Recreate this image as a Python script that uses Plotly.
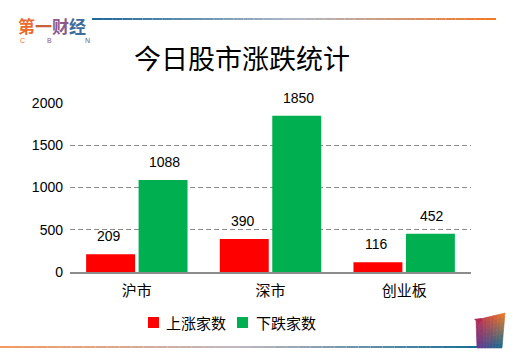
import plotly.graph_objects as go

categories = ["沪市", "深市", "创业板"]
up_name = "上涨家数"
down_name = "下跌家数"
up_values = [209, 390, 116]
down_values = [1088, 1850, 452]
y_ticks = [0, 500, 1000, 1500, 2000]

RED = "#FF0000"
GREEN = "#00B050"
CJK = "Noto Sans CJK SC"
NUM = "Liberation Sans"

W, H = 520, 360
PL, PR, PT, PB = 70, 471, 103, 272


def px(x):
    return (x - PL) / (PR - PL)


def py(y):
    return (PB - y) / (PB - PT)


def mix(c1, c2, t):
    a = [int(c1[i:i + 2], 16) for i in (1, 3, 5)]
    b = [int(c2[i:i + 2], 16) for i in (1, 3, 5)]
    return "rgb(%d,%d,%d)" % tuple(round(a[k] + (b[k] - a[k]) * t) for k in range(3))


def mix3(c1, c2, c3, t):
    if t < 0.5:
        return mix(c1, c2, t * 2)
    return mix(c2, c3, (t - 0.5) * 2)


fig = go.Figure()
fig.add_trace(go.Bar(name=up_name, x=categories, y=up_values, marker_color=RED,
                     marker_line_width=0))
fig.add_trace(go.Bar(name=down_name, x=categories, y=down_values, marker_color=GREEN,
                     marker_line_width=0))

annotations = []
for vals, shift in ((up_values, -28), (down_values, 28)):
    for c, v in zip(categories, vals):
        annotations.append(dict(x=c, y=v, xref="x", yref="y", text=str(v),
                                showarrow=False, xshift=shift, yshift=18,
                                font=dict(family=NUM, size=14, color="black"),
                                xanchor="center", yanchor="middle"))

shapes = []

# legend (drawn manually for exact spacing)
for name, color, sq_x, tx_x in ((up_name, RED, 148, 164), (down_name, GREEN, 237, 254)):
    shapes.append(dict(type="rect", xref="paper", yref="paper",
                       x0=px(sq_x), x1=px(sq_x + 11), y0=py(317), y1=py(328),
                       fillcolor=color, line=dict(width=0)))
    annotations.append(dict(x=px(tx_x), y=py(322), xref="paper", yref="paper",
                            text=name, showarrow=False, xanchor="left", yanchor="middle",
                            font=dict(family=CJK, size=15, color="black")))

# Logo text
annotations.append(dict(
    x=px(16), y=py(25), xref="paper", yref="paper", showarrow=False,
    xanchor="left", yanchor="middle",
    text="<b><span style='color:#EC6A2C'>第</span><span style='color:#C8603A'>一</span>"
         "<span style='color:#8A5A8A'>财</span><span style='color:#3E6C9C'>经</span></b>",
    font=dict(family=CJK, size=17)))
for ch, cx, cc in (("C", 22, "#EC6A2C"), ("B", 49, "#8A5A8A"), ("N", 87, "#3E6C9C")):
    annotations.append(dict(x=px(cx), y=py(41), xref="paper", yref="paper", showarrow=False,
                            xanchor="center", yanchor="middle", text=ch,
                            font=dict(family=NUM, size=7, color=cc)))

# top gradient line
N = 40
x0, x1 = 92, 496
for i in range(N):
    a = x0 + (x1 - x0) * i / N
    b = x0 + (x1 - x0) * (i + 1) / N
    shapes.append(dict(type="line", xref="paper", yref="paper", x0=px(a), x1=px(b),
                       y0=py(19), y1=py(19),
                       line=dict(color=mix3("#1E6A98", "#B0B8C8", "#F07A28", i / (N - 1)), width=2)))
# bottom gradient line
x0, x1 = 0, 478
for i in range(N):
    a = x0 + (x1 - x0) * i / N
    b = x0 + (x1 - x0) * (i + 1) / N
    shapes.append(dict(type="line", xref="paper", yref="paper", x0=px(a), x1=px(b),
                       y0=py(347), y1=py(347),
                       line=dict(color=mix3("#F39A60", "#C0B8C0", "#1A6E96", i / (N - 1)), width=2)))

# corner decoration (bilinear gradient quad)
TLp, TRp, BRp, BLp = (476, 320), (505, 313), (502, 348), (477, 348)
cTL, cTR, cBL, cBR = "#B02C58", "#F47C20", "#6A3690", "#0E6E92"


def bil(u, v):
    top = (TLp[0] + (TRp[0] - TLp[0]) * u, TLp[1] + (TRp[1] - TLp[1]) * u)
    bot = (BLp[0] + (BRp[0] - BLp[0]) * u, BLp[1] + (BRp[1] - BLp[1]) * u)
    return (top[0] + (bot[0] - top[0]) * v, top[1] + (bot[1] - top[1]) * v)


def colr(u, v):
    def h(c):
        return [int(c[i:i + 2], 16) for i in (1, 3, 5)]
    t = [h(cTL)[k] * (1 - u) + h(cTR)[k] * u for k in range(3)]
    b = [h(cBL)[k] * (1 - u) + h(cBR)[k] * u for k in range(3)]
    return "rgb(%d,%d,%d)" % tuple(round(t[k] * (1 - v) + b[k] * v) for k in range(3))


M = 8
for i in range(M):
    for j in range(M):
        u0, u1, v0, v1 = i / M, (i + 1) / M, j / M, (j + 1) / M
        pts = [bil(u0, v0), bil(u1, v0), bil(u1, v1), bil(u0, v1)]
        path = "M " + " L ".join("%f,%f" % (px(p[0]), py(p[1])) for p in pts) + " Z"
        shapes.append(dict(type="path", xref="paper", yref="paper", path=path,
                           fillcolor=colr((i + 0.5) / M, (j + 0.5) / M),
                           line=dict(width=0.6, color=colr((i + 0.5) / M, (j + 0.5) / M))))
# notch
shapes.append(dict(type="path", xref="paper", yref="paper",
                   path="M %f,%f L %f,%f L %f,%f Z" % (px(474), py(319), px(482), py(318), px(480), py(324)),
                   fillcolor=cTL, line=dict(width=0)))

fig.update_layout(
    width=W, height=H,
    margin=dict(l=PL, r=W - PR, t=PT, b=H - PB),
    paper_bgcolor="white", plot_bgcolor="white",
    barmode="group", bargap=0.215, bargroupgap=0.067,
    title=dict(text="今日股市涨跌统计", x=242 / W, y=1 - 60 / H, xanchor="center",
               yanchor="middle", font=dict(family=CJK, size=27, color="black")),
    xaxis=dict(showline=True, linecolor="#8C8C8C", linewidth=1.5, showgrid=False,
               ticks="", tickfont=dict(family=CJK, size=15, color="black"),
               ticklabelstandoff=4, fixedrange=True),
    yaxis=dict(range=[0, 2000], tickvals=y_ticks, showline=False, zeroline=False,
               showgrid=True, gridcolor="#8C8C8C", griddash="5px,3px", gridwidth=1,
               ticks="", tickfont=dict(family=NUM, size=14, color="black"),
               ticklabelstandoff=6, fixedrange=True),
    annotations=annotations,
    shapes=shapes,
    showlegend=False,
)

fig.write_html("out.html", config={"displayModeBar": False},
               post_script="document.body.style.margin='0';document.body.style.padding='0';")
